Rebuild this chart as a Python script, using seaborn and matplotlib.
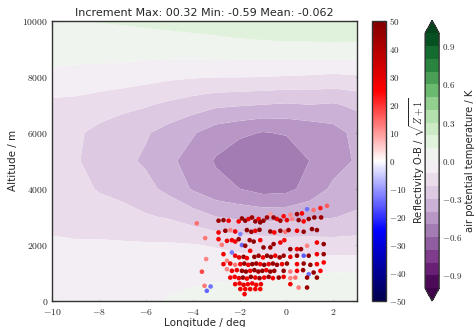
import numpy as np
import matplotlib
matplotlib.use("Agg")
import matplotlib.pyplot as plt
import matplotlib.ticker as mticker
from matplotlib.colors import Normalize
from matplotlib.cm import ScalarMappable
import pandas as pd
import seaborn as sns

# ---- potential temperature increment on a lon/alt grid (K) ----
grid_lon = [-10, -9, -8, -7, -6, -5, -4, -3, -2, -1, 0, 1, 2, 3]
grid_alt = [0, 1000, 2000, 3000, 4000, 5000, 6000, 7000, 8000, 9000, 10000]
# one column per longitude, values listed from the ground up
inc_lon_m10 = [-0.06, -0.07, -0.095, -0.11, -0.14, -0.17, -0.16, -0.125, -0.02, 0.04, 0.08]
inc_lon_m9 = [-0.055, -0.07, -0.095, -0.12, -0.16, -0.19, -0.185, -0.13, -0.03, 0.04, 0.095]
inc_lon_m8 = [-0.05, -0.07, -0.09, -0.14, -0.21, -0.24, -0.225, -0.15, -0.04, 0.045, 0.105]
inc_lon_m7 = [-0.045, -0.065, -0.09, -0.16, -0.235, -0.275, -0.26, -0.17, -0.05, 0.05, 0.11]
inc_lon_m6 = [-0.025, -0.06, -0.09, -0.19, -0.27, -0.315, -0.29, -0.19, -0.065, 0.045, 0.12]
inc_lon_m5 = [0.01, -0.04, -0.09, -0.21, -0.33, -0.38, -0.34, -0.22, -0.08, 0.045, 0.13]
inc_lon_m4 = [0.03, -0.03, -0.095, -0.25, -0.41, -0.44, -0.39, -0.25, -0.09, 0.05, 0.14]
inc_lon_m3 = [0.04, -0.02, -0.11, -0.30, -0.47, -0.51, -0.45, -0.28, -0.095, 0.055, 0.15]
inc_lon_m2 = [0.04, -0.025, -0.13, -0.32, -0.50, -0.57, -0.48, -0.29, -0.095, 0.06, 0.17]
inc_lon_m1 = [0.04, -0.02, -0.14, -0.33, -0.54, -0.59, -0.505, -0.30, -0.098, 0.065, 0.18]
inc_lon_0 = [0.05, -0.01, -0.15, -0.33, -0.53, -0.58, -0.49, -0.31, -0.105, 0.07, 0.19]
inc_lon_1 = [0.06, -0.005, -0.15, -0.32, -0.46, -0.498, -0.47, -0.30, -0.11, 0.07, 0.19]
inc_lon_2 = [0.07, 0.002, -0.16, -0.305, -0.38, -0.44, -0.44, -0.31, -0.12, 0.075, 0.19]
inc_lon_3 = [0.075, 0.005, -0.16, -0.28, -0.36, -0.39, -0.37, -0.28, -0.11, 0.07, 0.19]

# ---- reflectivity observation-minus-background at observation points ----
obs_lon = [
    0.88, 1.16, 1.45, 1.73, 0.45, 0.66, 0.165, -0.69, -0.12,
    -2.90, -2.69, -2.47, -1.90, -1.76, -1.62, -1.47, -1.33, -1.19, -0.98, -0.83,
    -0.405, -0.26, 0.02, 0.24, 0.52, 0.735, 0.95, 1.19, 1.48, -2.04, -1.12, -0.55,
    -2.90, -2.61, -2.40, -2.19, -1.97, -1.69, -1.50, -1.33, -1.15, -0.69, -0.52,
    -0.26, -0.05, 0.09, 0.45, 0.735, 1.09, 1.30,
    -2.90, -2.76, -2.54, -2.33, -2.19, -2.04, -1.90, -1.76, -1.57, -1.40, -1.12,
    -0.98, -0.69, -0.55, -0.26, -0.09, 0.165, 0.45, 0.62, 1.59, 0.88, 1.30,
    -2.69, -2.54, -2.33, -2.19, -2.02, -1.83, -1.55, -1.37, -1.19, -1.00, -0.83,
    -0.66, -0.48, -0.29, -0.12, 0.165, 0.45, 0.735, 0.95, 1.30, 1.59, -1.69,
    -2.69, -2.40, -2.19, -1.97, -1.80, -1.63, -1.46, -1.29, -1.12, -0.95, -0.76,
    -0.58, -0.405, -0.19, 0.02, 0.45, 0.735, 1.02, 1.30, 1.59,
    -2.54, -2.33, -2.12, -1.90, -1.73, -1.55, -1.37, -1.20, -1.03, -0.86, -0.69,
    -0.52, -0.12, 0.165, 0.45, 0.71, 0.95, 1.16, 1.45,
    -2.40, -2.21, -2.03, -1.86, -1.69, -1.52, -1.33, -1.15, -0.95, -0.76, -0.58,
    -0.33, -0.12, 0.165, 0.38, 0.88, 1.30,
    -2.19, -2.00, -1.83, -1.65, -1.46, -1.29, -1.09, 0.165, 0.52, 0.88,
    -1.97, -1.76, -1.55, -1.33, -1.12, -1.79,
    -3.83, -3.47, -3.43, -3.61, -3.50, -3.24, -3.40,
]
obs_alt = [
    3270, 3240, 3310, 3390, 3095, 3120, 3070, 3095, 3020,
    2860, 2880, 2860, 2940, 2860, 2920, 2975, 2835, 2920, 2860, 2975,
    2920, 2860, 2880, 2920, 2880, 2835, 2920, 2975, 2975, 2835, 2800, 2975,
    2440, 2500, 2525, 2475, 2380, 2525, 2465, 2500, 2535, 2475, 2440,
    2500, 2465, 2525, 2500, 2465, 2560, 2525,
    2200, 2000, 2140, 2165, 2115, 2200, 1990, 1965, 2165, 2115, 2165,
    1905, 1905, 2025, 2080, 2165, 1845, 1845, 1845, 2025, 1965, 2080,
    1665, 1430, 1725, 1610, 1550, 1570, 1785, 1570, 1610, 1550, 1610,
    1570, 1610, 1550, 1610, 1570, 1610, 1610, 1610, 1665, 1665, 1525,
    1310, 1330, 1285, 1310, 1330, 1285, 1310, 1330, 1310, 1285, 1310,
    1330, 1285, 1310, 1330, 1310, 1330, 1285, 1310, 1370,
    1130, 1070, 1095, 1070, 1045, 1070, 1095, 1045, 1070, 1095, 1045,
    1070, 1070, 1045, 1070, 1095, 950, 1010, 1070,
    830, 855, 810, 830, 795, 855, 830, 810, 830, 855, 810,
    830, 855, 810, 830, 830, 830,
    595, 620, 570, 595, 620, 570, 595, 595, 475, 475,
    420, 420, 420, 420, 420, 240,
    2765, 2240, 1490, 1040, 536, 512, 357,
]
obs_omb = [
    -14, 14, 22, 16, 46, 26, 12, 10, 24,
    44, 46, 28, 45, 47, 30, 44, 46, 27, 45, 43,
    28, 44, 30, 12, 46, 26, 45, 47, 44, 25, 48, 45,
    27, 45, 12, 28, -12, 46, 44, 30, 47, 45, 25,
    46, 14, 44, 28, 45, 47, 46,
    26, 13, 29, 27, 28, 45, -15, 46, 44, 47, 26,
    46, 44, 45, 29, 24, 46, 28, 44, 46, 12, 27,
    27, 12, -13, 28, 30, 45, 26, 46, 44, 28, 47,
    45, 27, 46, 44, 29, 45, -16, 46, 27, 45, 27,
    28, 30, 13, 27, 45, 28, 46, 44, 26, 47, 29,
    45, 44, 27, 46, 28, 45, 46, 27, 25,
    12, 28, 30, 45, 46, 27, 47, 44, 46, 28, 45,
    44, 46, 13, 27, 45, -14, 46, 26,
    28, 26, 29, 45, 27, 46, 28, 44, 27, 45, 26,
    46, 28, 12, 14, 45, 46,
    28, 27, 30, 26, 28, 27, 29, 27, 13, 45,
    28, 26, 29, 27, 25, 27,
    14, 13, 12, 18, 13, -14, -15,
]

title_text = "Increment Max: 00.32 Min: -0.59 Mean: -0.062"
inc_levels = [round(-1.0 + 0.1 * i, 1) for i in range(21)]
inc_ticks = [-0.9, -0.6, -0.3, 0.0, 0.3, 0.6, 0.9]
omb_ticks = [-50, -40, -30, -20, -10, 0, 10, 20, 30, 40, 50]
lon_ticks = [-10, -8, -6, -4, -2, 0, 2]
alt_ticks = [0, 2000, 4000, 6000, 8000, 10000]

sns.set_style("ticks")
plt.rcParams.update({
    "font.family": ["DejaVu Sans"],
    "mathtext.fontset": "cm",
    "xtick.direction": "in",
    "ytick.direction": "in",
    "xtick.top": True,
    "ytick.right": True,
    "xtick.major.size": 3.5,
    "ytick.major.size": 3.5,
    "xtick.major.width": 0.8,
    "ytick.major.width": 0.8,
    "axes.linewidth": 1.0,
    "axes.edgecolor": "#333333",
})

fig = plt.figure(figsize=(4.75, 3.27), dpi=100)
fig.patch.set_facecolor("white")
ax = fig.add_axes([0.110, 0.080, 0.641, 0.857])
cax1 = fig.add_axes([0.783, 0.080, 0.0295, 0.857])
cax2 = fig.add_axes([0.895, 0.080, 0.0295, 0.857])

field = np.array([inc_lon_m10, inc_lon_m9, inc_lon_m8, inc_lon_m7, inc_lon_m6,
                  inc_lon_m5, inc_lon_m4, inc_lon_m3, inc_lon_m2, inc_lon_m1,
                  inc_lon_0, inc_lon_1, inc_lon_2, inc_lon_3]).T
cs = ax.contourf(grid_lon, grid_alt, field, levels=inc_levels, cmap="PRGn",
                 vmin=-1, vmax=1, extend="both", antialiased=True)

obs = pd.DataFrame({"lon": obs_lon, "alt": obs_alt, "omb": obs_omb})
sns.scatterplot(data=obs, x="lon", y="alt", hue="omb", palette="seismic",
                hue_norm=(-50, 50), s=11, linewidth=0, legend=False, ax=ax,
                zorder=3)

ax.set_xlim(-10, 3)
ax.set_ylim(0, 10000)
ax.set_xticks(lon_ticks)
ax.set_yticks(alt_ticks)
int_fmt = mticker.FuncFormatter(lambda v, p: r"$%d$" % round(v))
ax.xaxis.set_major_formatter(int_fmt)
ax.yaxis.set_major_formatter(int_fmt)
ax.tick_params(axis="y", labelsize=7, pad=3)
ax.tick_params(axis="x", labelsize=7, pad=4.5)
ax.set_xlabel("Longitude / deg", fontsize=7.5, labelpad=1)
ax.set_ylabel("Altitude / m", fontsize=7.5, labelpad=3)
ax.set_title(title_text, fontsize=8, pad=3)

sm = ScalarMappable(norm=Normalize(-50, 50), cmap="seismic")
cb1 = fig.colorbar(sm, cax=cax1, ticks=omb_ticks)
cb1.ax.yaxis.set_major_formatter(int_fmt)
cb1.ax.tick_params(labelsize=6.5, direction="in", length=3, pad=2)
cb1.set_label(r"Reflectivity O-B / $\sqrt{Z+1}$", fontsize=7.2, labelpad=1)

cb2 = fig.colorbar(cs, cax=cax2, ticks=inc_ticks)
cb2.ax.yaxis.set_major_formatter(mticker.FuncFormatter(lambda v, p: r"$%.1f$" % v))
cb2.ax.tick_params(labelsize=6.5, direction="in", length=3, pad=2)
cb2.set_label("air potential temperature / K", fontsize=7.2, labelpad=2)

fig.savefig("out.png", dpi=100, facecolor="white")
